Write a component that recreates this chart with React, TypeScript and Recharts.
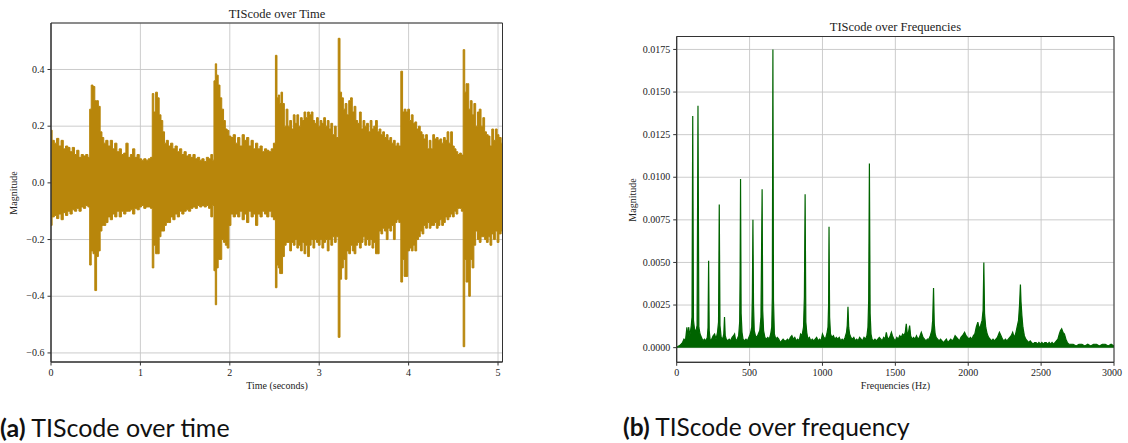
import {
  AreaChart,
  Area,
  XAxis,
  YAxis,
  CartesianGrid,
  ReferenceArea,
} from "recharts";

// ---- (a) waveform envelope, seconds / magnitude ----
const waveTime = [
  0, 0.025, 0.05, 0.075, 0.1, 0.125, 0.15, 0.175, 0.2, 0.225, 0.25, 0.275, 0.3, 0.325, 0.35, 0.375, 0.4, 0.425,
  0.44, 0.46, 0.48, 0.5, 0.52, 0.54, 0.56, 0.58, 0.6, 0.625, 0.65, 0.675, 0.7, 0.725, 0.75, 0.775, 0.8, 0.825,
  0.85, 0.875, 0.9, 0.925, 0.95, 0.975, 1.0, 1.025, 1.05, 1.075, 1.1, 1.125,
  1.14, 1.16, 1.18, 1.2, 1.22, 1.24, 1.26, 1.28, 1.3, 1.325, 1.35, 1.375, 1.4, 1.425, 1.45, 1.475, 1.5, 1.525,
  1.55, 1.575, 1.6, 1.625, 1.65, 1.675, 1.7, 1.725, 1.75, 1.775, 1.8, 1.815,
  1.83, 1.845, 1.86, 1.88, 1.9, 1.92, 1.94, 1.96, 1.98, 2.0, 2.025, 2.05, 2.075, 2.1, 2.125, 2.15, 2.175, 2.2,
  2.225, 2.25, 2.275, 2.3, 2.325, 2.35, 2.375, 2.4, 2.425, 2.45, 2.475, 2.5,
  2.52, 2.535, 2.55, 2.565, 2.58, 2.6, 2.62, 2.64, 2.66, 2.68, 2.7, 2.72, 2.74, 2.76, 2.78, 2.8, 2.82, 2.84,
  2.86, 2.88, 2.9, 2.92, 2.94, 2.96, 2.98, 3.0, 3.02, 3.04, 3.06, 3.08, 3.1, 3.12, 3.14, 3.16, 3.18, 3.2,
  3.225, 3.24, 3.26, 3.28, 3.3, 3.32, 3.34, 3.36, 3.38, 3.4, 3.42, 3.44, 3.46, 3.48, 3.5, 3.52, 3.54, 3.56,
  3.58, 3.6, 3.62, 3.64, 3.66, 3.68, 3.7, 3.72, 3.74, 3.76, 3.78, 3.8, 3.82, 3.84, 3.86, 3.88, 3.9,
  3.925, 3.94, 3.96, 3.98, 4.0, 4.02, 4.04, 4.06, 4.08, 4.1, 4.12, 4.14, 4.16, 4.18, 4.2, 4.22, 4.24, 4.26,
  4.28, 4.3, 4.32, 4.34, 4.36, 4.38, 4.4, 4.42, 4.44, 4.46, 4.48, 4.5, 4.52, 4.54, 4.56, 4.58, 4.6,
  4.62, 4.635, 4.65, 4.665, 4.68, 4.7, 4.72, 4.74, 4.76, 4.78, 4.8, 4.82, 4.84, 4.86, 4.88, 4.9, 4.92, 4.94,
  4.96, 4.98, 5.0, 5.02, 5.05,
];

const waveUpper = [
  0.186, 0.15, 0.14, 0.157, 0.13, 0.15, 0.12, 0.13, 0.125, 0.11, 0.125, 0.1, 0.115, 0.09, 0.1, 0.095, 0.1, 0.09,
  0.26, 0.345, 0.34, 0.29, 0.29, 0.27, 0.18, 0.16, 0.14, 0.15, 0.13, 0.15, 0.12, 0.14, 0.11, 0.12, 0.1, 0.105,
  0.14, 0.09, 0.1, 0.12, 0.09, 0.1, 0.085, 0.08, 0.085, 0.08, 0.085, 0.09,
  0.315, 0.25, 0.32, 0.3, 0.24, 0.22, 0.18, 0.14, 0.15, 0.13, 0.14, 0.12, 0.13, 0.11, 0.12, 0.1, 0.11, 0.095,
  0.1, 0.09, 0.1, 0.085, 0.09, 0.08, 0.085, 0.075, 0.09, 0.085, 0.1, 0.08,
  0.36, 0.42, 0.38, 0.345, 0.3, 0.26, 0.22, 0.19, 0.185, 0.165, 0.16, 0.17, 0.14, 0.16, 0.13, 0.17, 0.15, 0.16,
  0.13, 0.15, 0.12, 0.14, 0.12, 0.13, 0.11, 0.12, 0.115, 0.11, 0.12, 0.14,
  0.45, 0.3, 0.31, 0.28, 0.32, 0.28, 0.2, 0.26, 0.2, 0.22, 0.19, 0.24, 0.21, 0.24, 0.2, 0.23, 0.22, 0.25,
  0.23, 0.25, 0.24, 0.25, 0.22, 0.21, 0.23, 0.2, 0.22, 0.21, 0.23, 0.2, 0.22, 0.19, 0.21, 0.17, 0.2, 0.16,
  0.51, 0.32, 0.3, 0.26, 0.28, 0.24, 0.29, 0.3, 0.25, 0.27, 0.22, 0.21, 0.25, 0.19, 0.22, 0.2, 0.21, 0.18,
  0.22, 0.19, 0.2, 0.22, 0.18, 0.19, 0.17, 0.18, 0.16, 0.17, 0.15, 0.16, 0.14, 0.15, 0.13, 0.14, 0.13,
  0.394, 0.25, 0.26, 0.25, 0.26, 0.22, 0.24, 0.21, 0.215, 0.19, 0.2, 0.18, 0.17, 0.155, 0.17, 0.12, 0.15, 0.12,
  0.17, 0.155, 0.16, 0.15, 0.155, 0.14, 0.16, 0.15, 0.18, 0.14, 0.18, 0.13, 0.12, 0.11, 0.1, 0.105, 0.098,
  0.47, 0.32, 0.35, 0.35, 0.26, 0.29, 0.24, 0.28, 0.2, 0.25, 0.26, 0.2, 0.23, 0.18, 0.17, 0.165, 0.13, 0.19,
  0.15, 0.19, 0.17, 0.16, 0.14,
];

const waveLower = [
  -0.15, -0.12, -0.115, -0.126, -0.11, -0.13, -0.105, -0.115, -0.1, -0.11, -0.095, -0.1, -0.09, -0.1, -0.085, -0.09, -0.08, -0.085,
  -0.29, -0.24, -0.25, -0.38, -0.26, -0.24, -0.17, -0.15, -0.15, -0.14, -0.12, -0.13, -0.11, -0.12, -0.1, -0.12, -0.1, -0.11,
  -0.1, -0.1, -0.095, -0.11, -0.09, -0.095, -0.085, -0.08, -0.09, -0.085, -0.085, -0.09,
  -0.3, -0.22, -0.25, -0.25, -0.19, -0.17, -0.17, -0.15, -0.14, -0.14, -0.12, -0.13, -0.11, -0.12, -0.1, -0.11, -0.1, -0.095,
  -0.1, -0.09, -0.085, -0.09, -0.08, -0.085, -0.08, -0.085, -0.08, -0.09, -0.12, -0.08,
  -0.31, -0.43, -0.3, -0.27, -0.27, -0.2, -0.21, -0.22, -0.23, -0.15, -0.11, -0.12, -0.11, -0.12, -0.1, -0.13, -0.11, -0.14,
  -0.1, -0.12, -0.11, -0.15, -0.11, -0.12, -0.1, -0.11, -0.12, -0.1, -0.12, -0.13,
  -0.37, -0.29, -0.3, -0.32, -0.32, -0.26, -0.22, -0.21, -0.21, -0.24, -0.21, -0.22, -0.2, -0.23, -0.22, -0.24, -0.21, -0.25,
  -0.22, -0.26, -0.22, -0.2, -0.23, -0.2, -0.21, -0.22, -0.2, -0.23, -0.21, -0.2, -0.24, -0.2, -0.22, -0.19, -0.21, -0.19,
  -0.545, -0.34, -0.3, -0.27, -0.34, -0.24, -0.25, -0.22, -0.24, -0.25, -0.22, -0.21, -0.23, -0.21, -0.19, -0.22, -0.2, -0.22,
  -0.2, -0.23, -0.21, -0.25, -0.25, -0.17, -0.18, -0.16, -0.17, -0.2, -0.16, -0.17, -0.15, -0.2, -0.14, -0.13, -0.14,
  -0.35, -0.27, -0.33, -0.33, -0.24, -0.23, -0.24, -0.22, -0.24, -0.2, -0.19, -0.17, -0.18, -0.15, -0.16, -0.14, -0.16, -0.15,
  -0.15, -0.14, -0.16, -0.15, -0.13, -0.15, -0.14, -0.12, -0.13, -0.12, -0.11, -0.12, -0.1, -0.11, -0.09, -0.09, -0.1,
  -0.578, -0.27, -0.35, -0.35, -0.4, -0.27, -0.3, -0.22, -0.17, -0.2, -0.21, -0.19, -0.19, -0.2, -0.21, -0.19, -0.22, -0.18,
  -0.2, -0.17, -0.21, -0.18, -0.17,
];

const timeTicks = [0, 1, 2, 3, 4, 5];
const waveTicks = [-0.6, -0.4, -0.2, 0, 0.2, 0.4];

// ---- (b) spectrum, Hz / magnitude ----
const specFreq = [
  0, 10, 20, 30, 40, 50, 60, 70, 75, 82, 90, 100, 105, 110, 115, 122, 130, 140, 146, 152, 160, 170, 180, 190,
  200, 210, 215, 219, 223, 230, 240, 250, 260, 270, 280, 287, 292, 297, 305, 315, 323, 328, 333, 340, 350, 360,
  370, 380, 390, 397, 405, 415, 425, 432, 435, 438, 442, 448, 455, 465, 475, 485, 495, 505, 515, 519, 523, 527,
  532, 540, 550, 560, 570, 578, 582, 586, 590, 596, 605, 615, 625, 635, 645, 652, 656, 660, 664, 670, 680, 690,
  700, 710, 720, 730, 740, 750, 760, 770, 780, 790, 800, 810, 820, 830, 840, 850, 860, 870, 876, 881, 886, 892,
  900, 910, 920, 930, 940, 950, 960, 970, 980, 990, 1000, 1010, 1020, 1030, 1038, 1042, 1045, 1049, 1055, 1065,
  1075, 1085, 1095, 1105, 1115, 1125, 1135, 1145, 1155, 1165, 1170, 1175, 1180, 1186, 1195, 1205, 1215, 1225,
  1235, 1245, 1255, 1265, 1275, 1285, 1295, 1305, 1312, 1317, 1322, 1327, 1333, 1340, 1350, 1360, 1370, 1380,
  1390, 1400, 1410, 1420, 1430, 1438, 1445, 1455, 1465, 1473, 1480, 1490, 1500, 1510, 1520, 1530, 1540, 1550,
  1560, 1568, 1575, 1582, 1590, 1598, 1605, 1615, 1625, 1635, 1645, 1655, 1665, 1678, 1690, 1700, 1710, 1720,
  1730, 1740, 1750, 1756, 1762, 1767, 1773, 1780, 1790, 1800, 1810, 1820, 1830, 1840, 1850, 1860, 1870, 1880,
  1890, 1900, 1910, 1920, 1930, 1940, 1950, 1960, 1975, 1985, 1995, 2005, 2015, 2025, 2035, 2045, 2055, 2066,
  2075, 2085, 2095, 2102, 2107, 2112, 2120, 2130, 2140, 2150, 2160, 2170, 2180, 2190, 2200, 2214, 2225, 2235,
  2245, 2255, 2265, 2275, 2285, 2295, 2305, 2315, 2325, 2335, 2345, 2352, 2358, 2362, 2368, 2375, 2385, 2395,
  2405, 2415, 2425, 2435, 2445, 2455, 2465, 2475, 2485, 2495, 2505, 2515, 2525, 2535, 2545, 2555, 2565, 2575,
  2585, 2595, 2605, 2615, 2625, 2633, 2641, 2650, 2660, 2670, 2680, 2690, 2700, 2720, 2740, 2760, 2780, 2800,
  2820, 2840, 2860, 2880, 2900, 2920, 2940, 2960, 2980, 3000,
];

const specMag = [
  0.00002, 0.00008, 0.00012, 0.0002, 0.0003, 0.0005, 0.0004, 0.0012, 0.0005, 0.0012, 0.0007, 0.0013, 0.0018, 0.0136, 0.0016, 0.0011, 0.0009, 0.0013, 0.0142, 0.0012, 0.0008, 0.0006, 0.0004, 0.0005,
  0.0004, 0.0006, 0.0012, 0.0051, 0.001, 0.0004, 0.0005, 0.0007, 0.0008, 0.0005, 0.0009, 0.0015, 0.0084, 0.0013, 0.0006, 0.0005, 0.0008, 0.0018, 0.0007, 0.0005, 0.0004, 0.0005,
  0.0004, 0.0006, 0.0007, 0.0008, 0.0004, 0.0005, 0.0007, 0.0015, 0.0043, 0.0099, 0.002, 0.0009, 0.0005, 0.0004, 0.0005, 0.0004, 0.0006, 0.0008, 0.0012, 0.003, 0.0075, 0.0025,
  0.001, 0.0007, 0.0006, 0.0008, 0.001, 0.0018, 0.0055, 0.0093, 0.0022, 0.001, 0.0006, 0.0005, 0.0006, 0.0005, 0.0008, 0.0012, 0.003, 0.0175, 0.0028, 0.0008, 0.0005, 0.0006,
  0.0005, 0.0003, 0.0004, 0.0005, 0.0004, 0.0004, 0.0005, 0.0004, 0.0006, 0.0007, 0.0005, 0.0006, 0.0004, 0.0005, 0.0004, 0.0008, 0.0007, 0.0012, 0.003, 0.009, 0.0015, 0.0009,
  0.0005, 0.0006, 0.0004, 0.0005, 0.0004, 0.0005, 0.0006, 0.0004, 0.0005, 0.0004, 0.0008, 0.0006, 0.0005, 0.0008, 0.0012, 0.0025, 0.0071, 0.0018, 0.0008, 0.0006,
  0.0007, 0.0005, 0.0006, 0.0005, 0.0006, 0.0004, 0.0005, 0.0004, 0.0006, 0.0009, 0.0013, 0.0024, 0.0012, 0.0008, 0.0006, 0.0005, 0.0006, 0.0004,
  0.0005, 0.0004, 0.0006, 0.0005, 0.0004, 0.0006, 0.0005, 0.0007, 0.0012, 0.0028, 0.0108, 0.002, 0.0008, 0.0005, 0.0004, 0.0005, 0.0004, 0.0005,
  0.0006, 0.0005, 0.0004, 0.0006, 0.0005, 0.0009, 0.0006, 0.0005, 0.0007, 0.0009, 0.0007, 0.0005, 0.0004, 0.0006, 0.0005, 0.0007, 0.0006, 0.0008,
  0.0007, 0.0009, 0.0014, 0.0008, 0.0009, 0.0013, 0.0007, 0.0005, 0.0006, 0.0005, 0.0007, 0.0005, 0.0006, 0.0009, 0.0006, 0.0005, 0.0004, 0.0005,
  0.0005, 0.0007, 0.001, 0.0016, 0.0035, 0.0014, 0.0008, 0.0006, 0.0005, 0.0004, 0.0005, 0.0004, 0.0003, 0.0004, 0.0005, 0.0003, 0.0004, 0.0005,
  0.0004, 0.0005, 0.0007, 0.0006, 0.0005, 0.0004, 0.0006, 0.0007, 0.0009, 0.0007, 0.0006, 0.0005, 0.0006, 0.0005, 0.0007, 0.0008, 0.0012, 0.0015,
  0.0011, 0.0013, 0.0016, 0.0022, 0.005, 0.002, 0.0012, 0.0008, 0.0006, 0.0005, 0.0004, 0.0005, 0.0004, 0.0005, 0.0006, 0.0009, 0.0007, 0.0005,
  0.0004, 0.0005, 0.0004, 0.0005, 0.0006, 0.0007, 0.0009, 0.0006, 0.0008, 0.0012, 0.0016, 0.0025, 0.0037, 0.0027, 0.0019, 0.0012, 0.0007, 0.0005,
  0.0004, 0.0003, 0.0004, 0.0003, 0.0002, 0.0003, 0.0003, 0.0002, 0.0003, 0.0002, 0.0003, 0.0002, 0.0003, 0.0003, 0.0002, 0.0003, 0.0002, 0.0003,
  0.0002, 0.0003, 0.0004, 0.0005, 0.0008, 0.001, 0.0011, 0.0009, 0.0008, 0.0005, 0.0003, 0.0002, 0.0002, 0.0002, 0.0001, 0.0002, 0.0002, 0.0001,
  0.0002, 0.0001, 0.0002, 0.0002, 0.0001, 0.0002, 0.0002, 0.0001, 0.0002, 0.0001,
];

const freqTicks = [0, 500, 1000, 1500, 2000, 2500, 3000];
const specTicks = [0, 0.0025, 0.005, 0.0075, 0.01, 0.0125, 0.015, 0.0175];

const waveData = waveTime.map((t, i) => ({ t, band: [waveLower[i], waveUpper[i]] }));
const specData = specFreq.map((f, i) => ({ f, mag: specMag[i] }));

const serif = "'Liberation Serif', 'Times New Roman', serif";
const axisStroke = "#333";
const gridStroke = "#c6c6c6";
const capFont = "Lato, 'Open Sans', sans-serif";

const fmtWave = (v: number) => (v < 0 ? "\u2212" : "") + Math.abs(v).toFixed(1);
const fmtSpec = (v: number) => v.toFixed(4);
const fmtInt = (v: number) => String(v);

// tick label drawn with an explicit serif face
const makeTick = (fmt: (v: number) => string, dy: string) => (props: any) => {
  const { x, y, payload, textAnchor } = props;
  return (
    <text
      x={x}
      y={y}
      dy={dy}
      textAnchor={textAnchor}
      fontFamily={serif}
      fontSize={10}
      fill="#222"
    >
      {fmt(payload.value)}
    </text>
  );
};

const abs = (extra: React.CSSProperties): React.CSSProperties => ({
  position: "absolute",
  whiteSpace: "nowrap",
  lineHeight: 1,
  color: "#222",
  ...extra,
});

export default function App() {
  return (
    <div
      style={{
        position: "absolute",
        left: 0,
        top: 0,
        width: 1128,
        height: 443,
        background: "#fff",
        overflow: "hidden",
      }}
    >
      {/* (a) TIScode over Time */}
      <div style={{ position: "absolute", left: 0, top: 0 }}>
        <AreaChart
          width={520}
          height={400}
          data={waveData}
          margin={{ top: 23, right: 17.5, bottom: 8, left: 11 }}
        >
          <CartesianGrid stroke={gridStroke} strokeWidth={0.9} />
          <XAxis
            type="number"
            dataKey="t"
            domain={[0, 5.05]}
            ticks={timeTicks}
            allowDataOverflow
            height={30}
            tickSize={3.5}
            tickMargin={3}
            tick={makeTick(fmtInt, "0.71em")}
            axisLine={{ stroke: axisStroke }}
            tickLine={{ stroke: axisStroke }}
          />
          <YAxis
            type="number"
            domain={[-0.632, 0.564]}
            ticks={waveTicks}
            allowDataOverflow
            width={40}
            tickSize={3.5}
            tickMargin={3}
            tick={makeTick(fmtWave, "0.32em")}
            axisLine={{ stroke: axisStroke }}
            tickLine={{ stroke: axisStroke }}
          />
          <Area
            type="step"
            dataKey="band"
            stroke="#b8860b"
            strokeWidth={1}
            fill="#b8860b"
            fillOpacity={1}
            isAnimationActive={false}
            dot={false}
            activeDot={false}
          />
          <ReferenceArea
            x1={0}
            x2={5.05}
            y1={-0.632}
            y2={0.564}
            fill="none"
            stroke={axisStroke}
            strokeWidth={1}
            ifOverflow="visible"
          />
        </AreaChart>
      </div>

      {/* (b) TIScode over Frequencies */}
      <div style={{ position: "absolute", left: 620, top: 0 }}>
        <AreaChart
          width={508}
          height={400}
          data={specData}
          margin={{ top: 36.5, right: 14, bottom: 7.7, left: 6.7 }}
        >
          <CartesianGrid stroke={gridStroke} strokeWidth={0.9} />
          <XAxis
            type="number"
            dataKey="f"
            domain={[0, 3000]}
            ticks={freqTicks}
            allowDataOverflow
            height={30}
            tickSize={3.5}
            tickMargin={3}
            tick={makeTick(fmtInt, "0.71em")}
            axisLine={{ stroke: axisStroke }}
            tickLine={{ stroke: axisStroke }}
          />
          <YAxis
            type="number"
            domain={[-0.00086, 0.01826]}
            ticks={specTicks}
            allowDataOverflow
            width={50}
            tickSize={3.5}
            tickMargin={3}
            tick={makeTick(fmtSpec, "0.32em")}
            axisLine={{ stroke: axisStroke }}
            tickLine={{ stroke: axisStroke }}
          />
          <Area
            type="linear"
            dataKey="mag"
            baseValue={0}
            stroke="#006400"
            strokeWidth={1.2}
            fill="#006400"
            fillOpacity={1}
            isAnimationActive={false}
            dot={false}
            activeDot={false}
          />
          <ReferenceArea
            x1={0}
            x2={3000}
            y1={-0.00086}
            y2={0.01826}
            fill="none"
            stroke={axisStroke}
            strokeWidth={1}
            ifOverflow="visible"
          />
        </AreaChart>
      </div>

      {/* titles and axis labels */}
      <div style={abs({ left: 277, top: 7.5, transform: "translateX(-50%)", fontFamily: serif, fontSize: 12.5 })}>
        TIScode over Time
      </div>
      <div style={abs({ left: 895.4, top: 21, transform: "translateX(-50%)", fontFamily: serif, fontSize: 12.5 })}>
        TIScode over Frequencies
      </div>
      <div style={abs({ left: 277, top: 381, transform: "translateX(-50%)", fontFamily: serif, fontSize: 10 })}>
        Time (seconds)
      </div>
      <div style={abs({ left: 895.4, top: 381, transform: "translateX(-50%)", fontFamily: serif, fontSize: 10 })}>
        Frequencies (Hz)
      </div>
      <div
        style={abs({
          left: 14,
          top: 192.5,
          transform: "translate(-50%, -50%) rotate(-90deg)",
          fontFamily: serif,
          fontSize: 10,
        })}
      >
        Magnitude
      </div>
      <div
        style={abs({
          left: 633,
          top: 199.5,
          transform: "translate(-50%, -50%) rotate(-90deg)",
          fontFamily: serif,
          fontSize: 10,
        })}
      >
        Magnitude
      </div>

      {/* sub-figure captions */}
      <div style={abs({ left: 0, top: 415, fontFamily: capFont, fontSize: 25, color: "#111" })}>
        <b>(a)</b> TIScode over time
      </div>
      <div style={abs({ left: 623, top: 415, fontFamily: capFont, fontSize: 24.5, color: "#111" })}>
        <b>(b)</b> TIScode over frequency
      </div>
    </div>
  );
}
